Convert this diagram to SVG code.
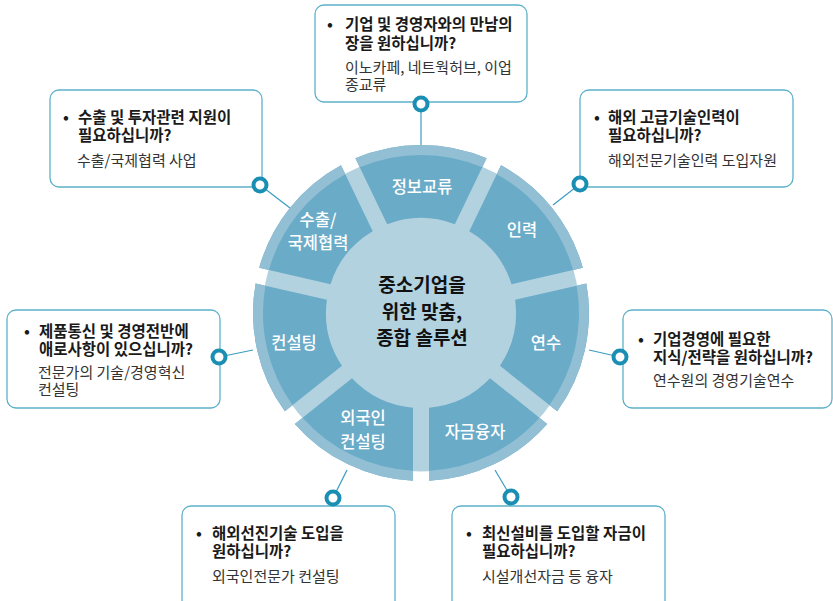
<svg xmlns="http://www.w3.org/2000/svg" xmlns:xlink="http://www.w3.org/1999/xlink" width="833" height="601" viewBox="0 0 833 601">
<style>
text{font-family:"Noto Sans CJK KR","Noto Sans",sans-serif;}
.seg{fill:#6aabc8;}
.band{fill:#92bfd4;}
.lbl{fill:#ffffff;font-size:16.5px;font-weight:500;text-anchor:middle;}
.ctr{fill:#111111;font-size:19px;font-weight:700;text-anchor:middle;}
.box{fill:#ffffff;stroke:#5eb1ca;stroke-width:1.3;}
.q{fill:#1a1a1a;font-size:15.5px;font-weight:700;}
.a{fill:#333333;font-size:15px;font-weight:400;}
.ring{fill:#ffffff;stroke:#1a8eb3;stroke-width:4;}
.ln{stroke:#3a9dbf;stroke-width:1.2;fill:none;}
</style>
<defs>
<g id="seg">
<path class="seg" d="M88.76,-33.86 L154.66,-65.60 A168,168 0 0 1 154.66,65.60 L88.76,33.86 A95,95 0 0 0 88.76,-33.86 Z"/>
<path class="band" d="M145.64,-61.26 L154.66,-65.60 A168,168 0 0 1 154.66,65.60 L145.64,61.26 A158,158 0 0 0 145.64,-61.26 Z"/>
</g>
</defs>
<g id="connectors">
<line class="ln" x1="421" y1="104" x2="421" y2="146"/>
<line class="ln" x1="260" y1="185" x2="290" y2="208"/>
<line class="ln" x1="580" y1="184" x2="553" y2="205"/>
<line class="ln" x1="219" y1="357" x2="253" y2="350"/>
<line class="ln" x1="620" y1="357" x2="589" y2="350"/>
<line class="ln" x1="333" y1="498" x2="347" y2="470"/>
<line class="ln" x1="511" y1="497" x2="495" y2="470"/>
</g>
<g id="wheel" transform="translate(421,313)">
<circle r="158.5" fill="#b3d2e0"/>
<use xlink:href="#seg" transform="rotate(115.714)"/>
<use xlink:href="#seg" transform="rotate(167.143)"/>
<use xlink:href="#seg" transform="rotate(218.571)"/>
<use xlink:href="#seg" transform="rotate(270)"/>
<use xlink:href="#seg" transform="rotate(321.429)"/>
<use xlink:href="#seg" transform="rotate(12.857)"/>
<use xlink:href="#seg" transform="rotate(64.286)"/>
</g>
<g id="labels">
<text class="lbl" x="422" y="193">정보교류</text>
<text class="lbl" x="522" y="236">인력</text>
<text class="lbl"><tspan x="318" y="226">수출/</tspan><tspan x="318" y="249">국제협력</tspan></text>
<text class="lbl" x="294" y="349">컨설팅</text>
<text class="lbl" x="546" y="349">연수</text>
<text class="lbl"><tspan x="363" y="424">외국인</tspan><tspan x="363" y="448">컨설팅</tspan></text>
<text class="lbl" x="475" y="438">자금융자</text>
</g>
<g id="center">
<text class="ctr"><tspan x="422" y="292">중소기업을</tspan><tspan x="422" y="319">위한 맞춤,</tspan><tspan x="422" y="345">종합 솔루션</tspan></text>
</g>
<g id="box-top">
<rect class="box" x="315" y="5" width="212" height="97" rx="9"/>
<text><tspan class="q" x="327" y="30">•</tspan><tspan class="q" x="345" y="30">기업 및 경영자와의 만남의</tspan><tspan class="q" x="345" y="49">장을 원하십니까?</tspan><tspan class="a" x="345" y="73">이노카페, 네트웍허브, 이업</tspan><tspan class="a" x="345" y="90">종교류</tspan></text>
<circle class="ring" cx="421" cy="104" r="6.5"/>
</g>
<g id="box-topleft">
<rect class="box" x="50" y="90" width="212" height="97" rx="9"/>
<text><tspan class="q" x="63" y="123">•</tspan><tspan class="q" x="78" y="123">수출 및 투자관련 지원이</tspan><tspan class="q" x="78" y="141">필요하십니까?</tspan><tspan class="a" x="77" y="166">수출/국제협력 사업</tspan></text>
<circle class="ring" cx="260" cy="185" r="6.5"/>
</g>
<g id="box-topright">
<rect class="box" x="580" y="90" width="213" height="97" rx="9"/>
<text><tspan class="q" x="594" y="123">•</tspan><tspan class="q" x="608" y="123">해외 고급기술인력이</tspan><tspan class="q" x="608" y="141">필요하십니까?</tspan><tspan class="a" x="608" y="166">해외전문기술인력 도입자원</tspan></text>
<circle class="ring" cx="580" cy="184" r="6.5"/>
</g>
<g id="box-left">
<rect class="box" x="7" y="310" width="213" height="98" rx="9"/>
<text><tspan class="q" x="24" y="337">•</tspan><tspan class="q" x="39" y="337">제품통신 및 경영전반에</tspan><tspan class="q" x="39" y="355">애로사항이 있으십니까?</tspan><tspan class="a" x="38" y="378">전문가의 기술/경영혁신</tspan><tspan class="a" x="38" y="395">컨설팅</tspan></text>
<circle class="ring" cx="219" cy="357" r="6.5"/>
</g>
<g id="box-right">
<rect class="box" x="623" y="310" width="209" height="98" rx="9"/>
<text><tspan class="q" x="638" y="345">•</tspan><tspan class="q" x="653" y="345">기업경영에 필요한</tspan><tspan class="q" x="653" y="363">지식/전략을 원하십니까?</tspan><tspan class="a" x="653" y="386">연수원의 경영기술연수</tspan></text>
<circle class="ring" cx="620" cy="357" r="6.5"/>
</g>
<g id="box-bottomleft">
<rect class="box" x="182" y="506" width="213" height="110" rx="9"/>
<text><tspan class="q" x="196" y="539">•</tspan><tspan class="q" x="212" y="539">해외선진기술 도입을</tspan><tspan class="q" x="212" y="557">원하십니까?</tspan><tspan class="a" x="212" y="582">외국인전문가 컨설팅</tspan></text>
<circle class="ring" cx="333" cy="498" r="6.5"/>
</g>
<g id="box-bottomright">
<rect class="box" x="452" y="506" width="213" height="110" rx="9"/>
<text><tspan class="q" x="466" y="539">•</tspan><tspan class="q" x="482" y="539">최신설비를 도입할 자금이</tspan><tspan class="q" x="482" y="557">필요하십니까?</tspan><tspan class="a" x="482" y="582">시설개선자금 등 융자</tspan></text>
<circle class="ring" cx="511" cy="497" r="6.5"/>
</g>
</svg>
